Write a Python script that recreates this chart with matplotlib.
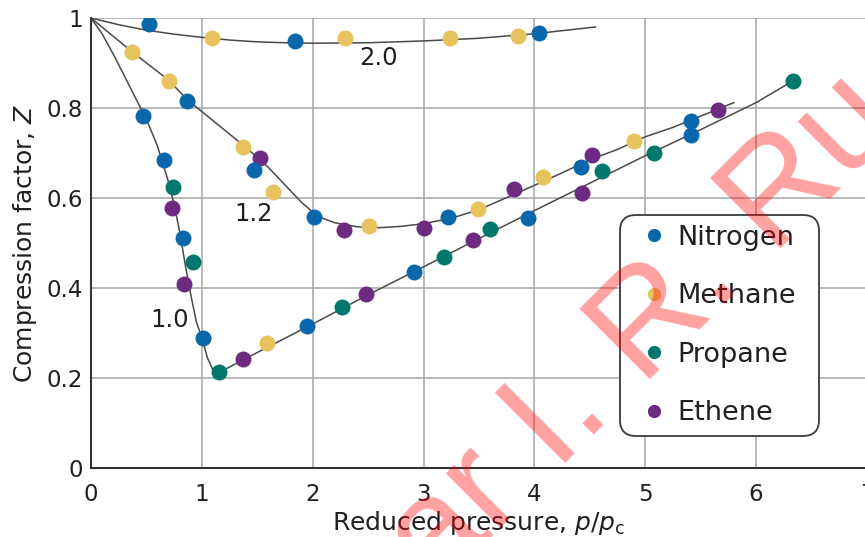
import matplotlib
matplotlib.use("Agg")
import matplotlib.pyplot as plt
from matplotlib.lines import Line2D

# reduced pressure / compression factor, per gas
nitrogen_x = [0.52, 1.84, 4.04, 0.87, 1.47, 2.01, 3.22, 4.42, 5.41,
              0.47, 0.66, 0.83, 1.01, 1.95, 2.91, 3.94, 5.41]
nitrogen_y = [0.987, 0.949, 0.967, 0.816, 0.662, 0.558, 0.557, 0.669, 0.771,
              0.782, 0.684, 0.511, 0.289, 0.316, 0.435, 0.556, 0.740]

methane_x = [1.09, 2.29, 3.24, 3.85, 0.37, 0.70, 1.37, 1.64, 2.51, 3.49,
             4.08, 4.90, 1.59]
methane_y = [0.956, 0.956, 0.956, 0.960, 0.924, 0.860, 0.714, 0.613, 0.538,
             0.575, 0.646, 0.727, 0.278]

propane_x = [0.74, 0.92, 1.155, 2.26, 3.18, 3.60, 4.61, 5.08, 6.33]
propane_y = [0.625, 0.458, 0.213, 0.358, 0.470, 0.531, 0.660, 0.700, 0.860]

ethene_x = [1.52, 2.28, 3.00, 3.82, 4.52, 5.66, 0.73, 0.84, 1.37, 2.48,
            3.45, 4.43]
ethene_y = [0.689, 0.529, 0.533, 0.619, 0.696, 0.796, 0.578, 0.410, 0.242,
            0.386, 0.507, 0.611]

# isotherm curves (reduced temperature 2.0, 1.2, 1.0)
curve20_x = [0, 0.25, 0.5, 0.75, 1.0, 1.25, 1.5, 1.75, 2.0, 2.5, 3.0, 3.5,
             4.0, 4.55]
curve20_y = [1.0, 0.985, 0.973, 0.964, 0.957, 0.951, 0.947, 0.945, 0.944,
             0.945, 0.949, 0.955, 0.965, 0.98]

curve12_x = [0, 0.37, 0.70, 0.87, 1.0, 1.2, 1.4, 1.6, 1.8, 1.9, 2.0, 2.1,
             2.2, 2.4, 2.6, 2.8, 3.0, 3.25, 3.5, 3.75, 4.0, 4.25, 4.5, 4.75,
             5.0, 5.25, 5.5, 5.8]
curve12_y = [1.0, 0.925, 0.862, 0.818, 0.792, 0.752, 0.712, 0.668, 0.616,
             0.590, 0.569, 0.554, 0.545, 0.536, 0.534, 0.537, 0.543, 0.555,
             0.574, 0.601, 0.628, 0.656, 0.685, 0.708, 0.736, 0.757, 0.782,
             0.812]

curve10_x = [0, 0.1, 0.2, 0.3, 0.4, 0.5, 0.6, 0.7, 0.75, 0.8, 0.85, 0.9,
             0.95, 1.0, 1.05, 1.1, 1.155, 1.4, 2.0, 2.5, 3.0, 3.5, 4.0, 4.5,
             5.0, 5.5, 6.0, 6.33]
curve10_y = [1.0, 0.965, 0.92, 0.872, 0.823, 0.775, 0.715, 0.635, 0.585,
             0.525, 0.452, 0.385, 0.325, 0.29, 0.245, 0.218, 0.212, 0.244,
             0.32, 0.385, 0.447, 0.51, 0.572, 0.633, 0.694, 0.752, 0.812,
             0.86]

curve_labels = ["2.0", "1.2", "1.0"]
label_pos = [(2.59, 0.911), (1.47, 0.565), (0.71, 0.329)]

x_ticks = [0, 1, 2, 3, 4, 5, 6, 7]
y_ticks = [0, 0.2, 0.4, 0.6, 0.8, 1.0]
y_ticklabels = ["0", "0.2", "0.4", "0.6", "0.8", "1"]

gases = ["Nitrogen", "Methane", "Propane", "Ethene"]
colors = {"Nitrogen": "#0a67ab", "Methane": "#e7c35e",
          "Propane": "#00796c", "Ethene": "#6c2b80"}
series = {"Nitrogen": (nitrogen_x, nitrogen_y),
          "Methane": (methane_x, methane_y),
          "Propane": (propane_x, propane_y),
          "Ethene": (ethene_x, ethene_y)}

plt.rcParams["font.family"] = "DejaVu Sans"
text_color = "#231f20"

fig = plt.figure(figsize=(8.65, 5.37), dpi=100)
ax = fig.add_axes([91 / 865, 69 / 537, 776 / 865, 450 / 537])

ax.set_xlim(0, 7)
ax.set_ylim(0, 1)
ax.set_xticks(x_ticks)
ax.set_yticks(y_ticks)
ax.set_yticklabels(y_ticklabels)
ax.grid(True, color="#a6a6a6", linewidth=1.1)
ax.set_axisbelow(True)
for side in ["top", "right"]:
    ax.spines[side].set_visible(False)
for side in ["left", "bottom"]:
    ax.spines[side].set_color("#333333")
    ax.spines[side].set_linewidth(1.5)
    ax.spines[side].set_zorder(2.5)
ax.tick_params(axis="both", length=0, labelsize=16.5, labelcolor=text_color)
ax.tick_params(axis="x", pad=11)
ax.tick_params(axis="y", pad=6)

line_kw = dict(color="#4a4a4a", linewidth=1.1, zorder=2)
ax.plot(curve20_x, curve20_y, **line_kw)
ax.plot(curve12_x, curve12_y, **line_kw)
ax.plot(curve10_x, curve10_y, **line_kw)

for lab, (lx, ly) in zip(curve_labels, label_pos):
    ax.text(lx, ly, lab, ha="center", va="center", fontsize=17.5,
            color=text_color)

# nitrogen drawn last so it sits on top where dots overlap
for gas in ["Ethene", "Propane", "Methane", "Nitrogen"]:
    gx, gy = series[gas]
    ax.plot(gx, gy, "o", color=colors[gas], markersize=11.5,
            markeredgewidth=0, zorder=3)

handles = [Line2D([], [], marker="o", ls="", color=colors[g], markersize=9.5,
                  markeredgewidth=0) for g in gases]
leg = ax.legend(handles, gases, loc="upper left",
                bbox_to_anchor=(0.682, 0.069, 0.256, 0.493), mode="expand",
                borderaxespad=0, fontsize=19.5, borderpad=0.36,
                labelspacing=1.2, handlelength=1.8, handletextpad=-0.05,
                frameon=True, fancybox=True, framealpha=1)
for t in leg.get_texts():
    t.set_color(text_color)
frame = leg.get_frame()
frame.set_edgecolor("#3a3a3a")
frame.set_linewidth(1.3)
frame.set_boxstyle("round", pad=0, rounding_size=0.6)

ax.set_xlabel("Reduced pressure, $p/p_{\\mathrm{c}}$", fontsize=18,
              color=text_color, labelpad=2)
ax.set_ylabel("Compression factor, $Z$", fontsize=18, color=text_color,
              labelpad=5)

# red watermark across the picture
fig.text(0.506, -0.102, "ar I. R. Ru", rotation=45, rotation_mode="anchor",
         ha="left", va="baseline", fontsize=104,
         family="Liberation Sans", color="red", alpha=0.37, zorder=10)

fig.savefig("out.png", dpi=100)
